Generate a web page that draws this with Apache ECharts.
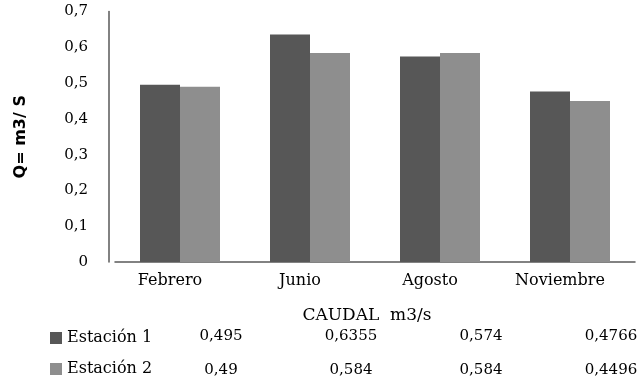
<!DOCTYPE html>
<html>
<head>
<meta charset="utf-8">
<script src="https://cdn.jsdelivr.net/npm/echarts@6/dist/echarts.min.js"></script>
<style>
  html, body { margin: 0; padding: 0; background: #ffffff; }
  #chart { width: 641px; height: 384px; }
</style>
</head>
<body>
<div id="chart"></div>
<script>
// Caudal medio por mes y estación
const categories = ['Febrero', 'Junio', 'Agosto', 'Noviembre'];
const estacion1 = [0.495, 0.6355, 0.574, 0.4766];
const estacion2 = [0.49, 0.584, 0.584, 0.4496];
const seriesNames = ['Estación 1', 'Estación 2'];
const yMin = 0, yMax = 0.7, yStep = 0.1;

const colors = ['#575757', '#8e8e8e'];
const serif = 'DejaVu Serif';

// decimal comma formatting
const fmt = v => String(v).replace('.', ',');
const fmtTick = v => (Math.abs(v) < 1e-9 ? '0' : v.toFixed(1).replace('.', ','));

// one row of the data table under the plot, aligned with the categories
const tableAxis = (values, offset) => ({
  type: 'category',
  gridIndex: 0,
  position: 'bottom',
  offset: offset,
  data: values.map(fmt),
  axisLine: { show: false },
  axisTick: { show: false },
  axisLabel: {
    margin: 0,
    color: '#000',
    fontFamily: serif,
    fontSize: 15,
    padding: [0, 0, 0, 82]
  }
});

const chart = echarts.init(document.getElementById('chart'), null, { renderer: 'canvas' });
chart.setOption({
  animation: false,
  backgroundColor: '#ffffff',
  grid: { left: 115, top: 11, width: 520, height: 251, containLabel: false },
  legend: {
    orient: 'vertical',
    left: 45,
    top: 325,
    itemGap: 15,
    itemWidth: 12,
    itemHeight: 12,
    icon: 'rect',
    selectedMode: false,
    data: seriesNames,
    textStyle: { color: '#000', fontFamily: serif, fontSize: 16 }
  },
  xAxis: [
    {
      type: 'category',
      data: categories,
      axisLine: { lineStyle: { color: '#595959', width: 1.5 } },
      axisTick: { show: false },
      axisLabel: {
        margin: 11,
        color: '#000',
        fontFamily: serif,
        fontSize: 16,
        padding: [0, 20, 0, 0]
      },
      name: 'CAUDAL  m3/s',
      nameLocation: 'middle',
      nameGap: 45,
      nameTextStyle: { color: '#000', fontFamily: serif, fontSize: 17, padding: [0, 16, 0, 0] }
    },
    tableAxis(estacion1, 67),
    tableAxis(estacion2, 101)
  ],
  yAxis: {
    type: 'value',
    min: yMin,
    max: yMax,
    interval: yStep,
    offset: 6,
    splitLine: { show: false },
    axisLine: { show: true, lineStyle: { color: '#595959', width: 1.5 } },
    axisTick: { show: false },
    axisLabel: {
      margin: 21,
      color: '#000',
      fontFamily: serif,
      fontSize: 15,
      lineHeight: 15,
      padding: [8, 0, 0, 0],
      formatter: fmtTick
    },
    name: 'Q= m3/ S',
    nameLocation: 'middle',
    nameRotate: 90,
    nameGap: 80,
    nameTextStyle: { color: '#000', fontFamily: 'DejaVu Sans', fontWeight: 'bold', fontSize: 16 }
  },
  series: [
    {
      name: seriesNames[0],
      type: 'bar',
      data: estacion1,
      barWidth: 40,
      barGap: '0%',
      itemStyle: { color: colors[0] }
    },
    {
      name: seriesNames[1],
      type: 'bar',
      data: estacion2,
      barWidth: 40,
      barGap: '0%',
      itemStyle: { color: colors[1] }
    }
  ]
});
</script>
</body>
</html>
